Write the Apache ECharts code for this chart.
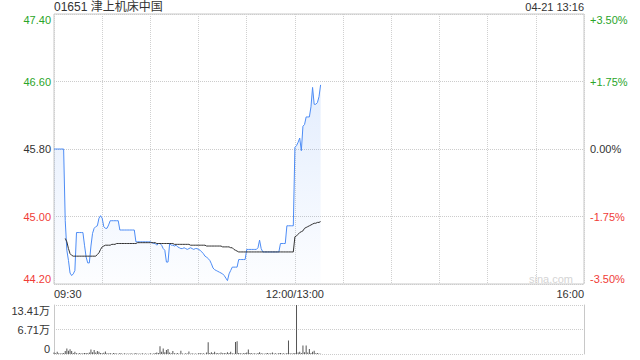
<!DOCTYPE html>
<html><head><meta charset="utf-8">
<script src="https://cdn.jsdelivr.net/npm/echarts@6/dist/echarts.min.js"></script>
<style>html,body{margin:0;padding:0;background:#fff}#c{width:640px;height:360px}</style>
</head><body><div id="c"></div>
<script>
const stockTitle = '01651 津上机床中国';
const stampText = '04-21 13:16';
const watermark = 'sina.com';
const priceMin = 44.20, priceMax = 47.40;
const priceTicks = ['44.20','45.00','45.80','46.60','47.40'];
const pctTicks = ['-3.50%','-1.75%','0.00%','+1.75%','+3.50%'];
const volTicks = ['0','6.71万','13.41万'];
const volMax = 134100;
const xLabelIdx = [0,150,330];
const xLabelText = ['09:30','12:00/13:00','16:00'];

const price = [
45.80,45.80,45.80,45.80,45.80,45.80,45.80,44.95,44.60,44.48,
44.33,44.30,44.32,44.36,44.81,44.81,44.81,44.81,44.81,44.66,
44.52,44.45,44.45,44.65,44.80,44.86,44.88,44.89,44.98,45.01,
44.98,44.88,44.86,44.86,44.90,44.95,44.95,44.95,44.95,44.95,
44.95,44.84,44.84,44.84,44.84,44.84,44.84,44.84,44.84,44.84,
44.84,44.70,44.70,44.70,44.70,44.70,44.70,44.70,44.70,44.70,
44.70,44.69,44.68,44.68,44.66,44.68,44.68,44.66,44.62,44.60,
44.46,44.46,44.68,44.66,44.66,44.65,44.66,44.64,44.63,44.62,
44.62,44.63,44.62,44.61,44.62,44.63,44.62,44.61,44.62,44.62,
44.61,44.60,44.58,44.56,44.53,44.52,44.50,44.48,44.44,44.39,
44.37,44.36,44.35,44.34,44.33,44.32,44.30,44.27,44.24,44.32,
44.36,44.40,44.40,44.40,44.40,44.49,44.49,44.49,44.49,44.49,
44.61,44.61,44.61,44.61,44.61,44.61,44.61,44.63,44.72,44.62,
44.58,44.58,44.58,44.58,44.58,44.58,44.58,44.58,44.58,44.58,
44.58,44.68,44.68,44.68,44.68,44.89,44.89,44.89,44.89,44.89,
45.82,45.84,45.88,45.93,45.78,46.07,46.09,46.18,46.18,46.18,
46.30,46.53,46.33,46.33,46.35,46.42,46.56
];

const avgPrice = [
null,null,null,null,null,null,null,44.74,44.70,44.62,
44.56,44.54,44.53,44.53,44.53,44.53,44.53,44.53,44.53,44.53,
44.53,44.53,44.53,44.53,44.53,44.53,44.53,44.55,44.57,44.61,
44.64,44.65,44.66,44.66,44.66,44.66,44.67,44.67,44.67,44.68,
44.68,44.68,44.68,44.68,44.68,44.68,44.68,44.68,44.68,44.68,
44.68,44.68,44.69,44.69,44.69,44.69,44.69,44.69,44.69,44.69,
44.69,44.69,44.69,44.69,44.68,44.68,44.68,44.68,44.68,44.68,
44.68,44.68,44.68,44.68,44.68,44.67,44.67,44.67,44.67,44.67,
44.67,44.67,44.67,44.67,44.67,44.66,44.66,44.66,44.66,44.66,
44.66,44.66,44.66,44.66,44.66,44.65,44.65,44.65,44.65,44.65,
44.65,44.65,44.65,44.65,44.65,44.64,44.64,44.64,44.64,44.64,
44.63,44.63,44.61,44.60,44.59,44.58,44.58,44.58,44.58,44.58,
44.58,44.58,44.58,44.58,44.58,44.58,44.58,44.58,44.58,44.58,
44.58,44.58,44.58,44.58,44.58,44.58,44.58,44.58,44.58,44.58,
44.58,44.58,44.58,44.58,44.58,44.58,44.58,44.58,44.58,44.58,
44.76,44.77,44.79,44.81,44.82,44.83,44.86,44.87,44.88,44.89,
44.90,44.91,44.92,44.92,44.93,44.93,44.94
];

const volume = [
4000,2000,6000,2000,1500,2000,3000,8000,15000,9000,
13000,8000,3000,6000,2000,1500,3000,1500,2000,2500,
3000,2000,4000,12000,5000,11000,4000,8000,6000,3000,
2000,3500,7000,2000,1500,2500,1000,3000,2000,1500,
1000,2500,1500,1000,2000,1000,1500,1000,2000,1000,
1500,3000,1000,1500,1000,2000,1000,1500,1000,1000,
2000,1000,1500,2500,4000,3000,21000,6000,15000,5000,
11000,14000,4000,2000,8000,2000,1500,3000,1000,9000,
1500,1000,2000,1500,7000,1000,2000,1000,1500,1000,
2000,3000,1500,2000,1000,4000,32000,3000,5000,2500,
6000,2000,3000,1500,4000,2000,3000,2000,5000,3000,
6000,2000,1500,33000,35000,3000,2000,1500,2000,3000,
4000,12000,3000,2000,1500,2000,1000,3000,5000,2000,
1500,1000,2000,3000,1500,2000,4000,1500,2000,1000,
2500,3000,1500,2000,1000,3000,37000,2000,1500,2000,
3000,134100,4000,6000,3000,23000,5000,23000,4000,14000,
3000,6000,9000,2000,2500,1500,1000
];

function pad(n){return (n<10?'0':'')+n;}
const times = [];
for (let m = 570; m <= 720; m++) times.push(pad(Math.floor(m/60)) + ':' + pad(m%60));
for (let m = 781; m <= 960; m++) times.push(pad(Math.floor(m/60)) + ':' + pad(m%60));

const FONT = '"Liberation Sans", Arial, "Noto Sans CJK SC", sans-serif';
const UP = '#2aa52a', DOWN = '#f03c37', FLAT = '#333333';
const BLUE = '#4d8cf5';
const lblColor = (i) => i < 2 ? DOWN : (i === 2 ? FLAT : UP);

const chart = echarts.init(document.getElementById('c'), null, {renderer: 'svg'});
chart.setOption({
  animation: false,
  backgroundColor: '#fff',
  textStyle: {fontFamily: FONT},
  title: [
    {text: stockTitle, left: 54, top: 1, padding: 0,
     textStyle: {fontSize: 12, fontWeight: 'normal', color: '#333', fontFamily: FONT}},
    {text: stampText, right: 56, top: 1, padding: 0,
     textStyle: {fontSize: 11, fontWeight: 'normal', color: '#333', fontFamily: FONT}},
    {text: watermark, right: 67, top: 273, padding: 0,
     textStyle: {fontSize: 11, fontWeight: 'normal', color: '#d4d4d4', fontFamily: FONT}}
  ],
  grid: [
    {left: 54, right: 56, top: 14, height: 270, show: true, borderColor: '#c8c8c8', borderWidth: 1},
    {left: 54, right: 56, top: 305, height: 49}
  ],
  xAxis: [
    {type: 'category', gridIndex: 0, data: times, boundaryGap: false,
     axisLine: {show: false}, axisTick: {show: false},
     axisLabel: {interval: (i) => xLabelIdx.indexOf(i) >= 0,
       formatter: (v, i) => xLabelText[xLabelIdx.indexOf(i)],
       margin: 4, fontSize: 11, color: '#333', fontFamily: FONT,
       alignMinLabel: 'left', alignMaxLabel: 'right'},
     splitLine: {show: true, interval: (i) => i % 30 === 0,
       lineStyle: {type: 'dotted', color: '#d0d0d0', width: 1}}},
    {type: 'category', gridIndex: 1, data: times, boundaryGap: false,
     axisLine: {show: false}, axisTick: {show: false}, axisLabel: {show: false},
     splitLine: {show: false}}
  ],
  yAxis: [
    {type: 'value', gridIndex: 0, min: priceMin, max: priceMax, show: false},
    {type: 'category', gridIndex: 0, position: 'left', data: priceTicks, boundaryGap: false,
     axisLine: {show: false}, axisTick: {show: false},
     axisLabel: {interval: 0, margin: 3, fontSize: 11, fontFamily: FONT,
       color: (v, i) => lblColor(i),
       verticalAlignMinLabel: 'bottom', verticalAlignMaxLabel: 'top'},
     splitLine: {show: true, interval: 0, lineStyle: {type: 'dotted', color: '#cccccc'}}},
    {type: 'category', gridIndex: 0, position: 'right', data: pctTicks, boundaryGap: false,
     axisLine: {show: false}, axisTick: {show: false},
     axisLabel: {interval: 0, margin: 6, fontSize: 11, fontFamily: FONT,
       color: (v, i) => lblColor(i),
       verticalAlignMinLabel: 'bottom', verticalAlignMaxLabel: 'top'},
     splitLine: {show: false}},
    {type: 'value', gridIndex: 1, position: 'left', min: 0, max: volMax, interval: volMax / 2,
     axisLine: {show: true, lineStyle: {color: '#c8c8c8'}}, axisTick: {show: false},
     axisLabel: {margin: 4, fontSize: 11, color: '#333', fontFamily: FONT,
       formatter: (v, i) => volTicks[i],
       verticalAlignMinLabel: 'bottom', verticalAlignMaxLabel: 'top'},
     splitLine: {show: true, lineStyle: {type: 'dotted', color: '#cccccc'}}},
    {type: 'value', gridIndex: 1, position: 'right', min: 0, max: volMax, interval: volMax / 2,
     axisLine: {show: true, lineStyle: {color: '#c8c8c8'}}, axisTick: {show: false},
     axisLabel: {show: false}, splitLine: {show: false}}
  ],
  series: [
    {type: 'line', xAxisIndex: 0, yAxisIndex: 0, data: price, symbol: 'none', silent: true,
     lineStyle: {color: BLUE, width: 1},
     areaStyle: {origin: 'start', color: new echarts.graphic.LinearGradient(0, 0, 0, 1, [
       {offset: 0, color: 'rgba(77,140,245,0.22)'},
       {offset: 1, color: 'rgba(77,140,245,0.02)'}])}},
    {type: 'line', xAxisIndex: 0, yAxisIndex: 0, data: avgPrice, symbol: 'none', silent: true,
     lineStyle: {color: '#333', width: 1}},
    {type: 'bar', xAxisIndex: 1, yAxisIndex: 3, data: volume, barWidth: 1, silent: true,
     itemStyle: {color: '#555'}}
  ]
});
</script>
</body></html>
